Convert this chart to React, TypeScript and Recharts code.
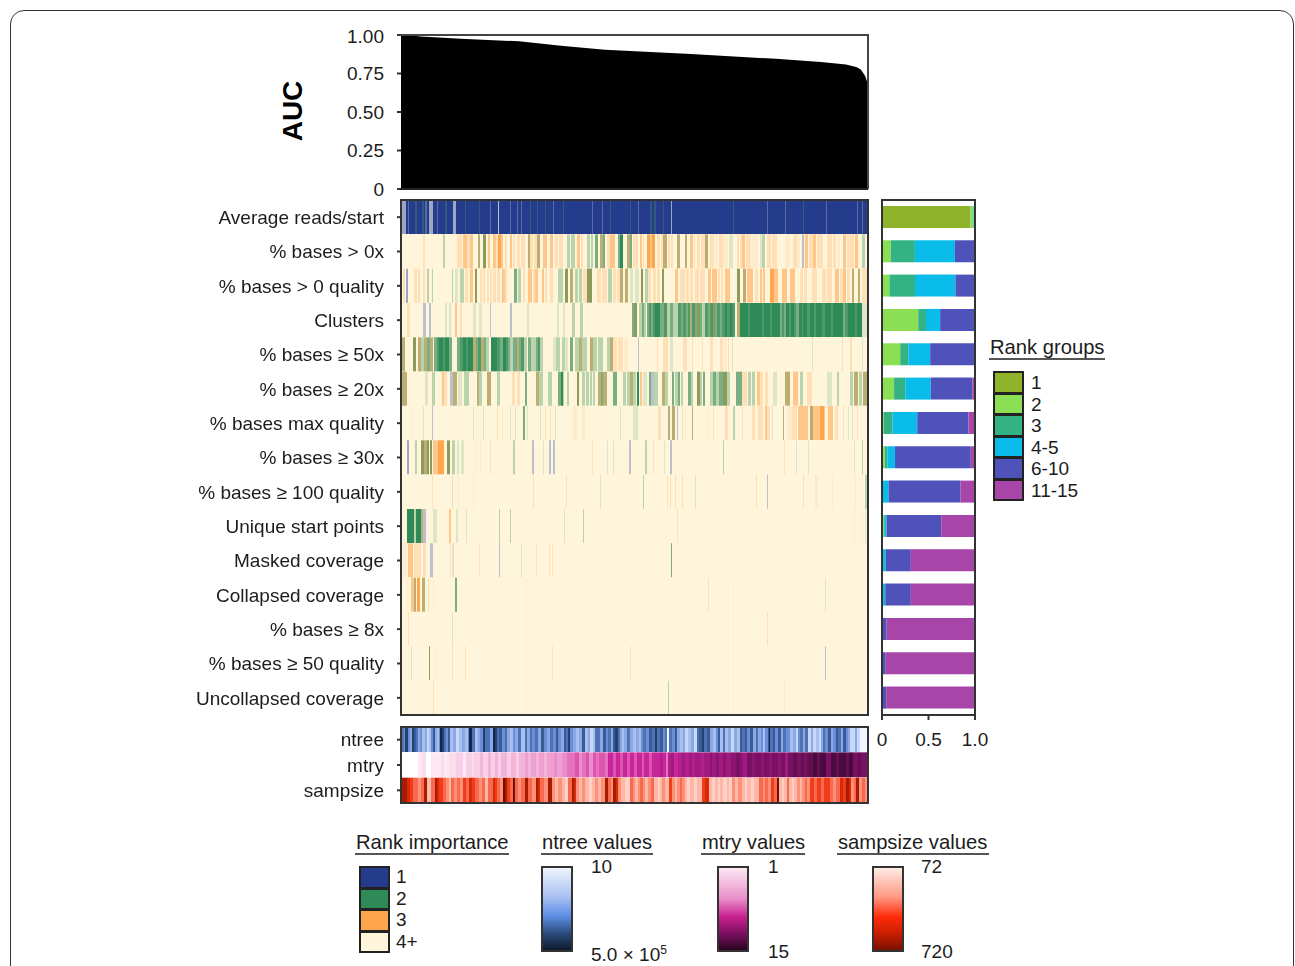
import React from "react";
import { AreaChart, Area, BarChart, Bar, Cell, XAxis, YAxis } from "recharts";

const FONT = "'Liberation Sans', Arial, sans-serif";
const COLUMNS = 467;

type Stripe = [number, number, string];

const aucIndex = [0, 8, 20, 60, 118, 160, 204, 290, 375, 420, 445, 456, 460, 464, 466, 467];
const aucValues = [1.0, 0.998, 0.99, 0.975, 0.959, 0.93, 0.905, 0.877, 0.845, 0.825, 0.808, 0.79, 0.774, 0.735, 0.70, 0.672];
const aucTicks = [0, 0.25, 0.5, 0.75, 1];

const rowNames = [
  "Average reads/start", "% bases > 0x", "% bases > 0 quality", "Clusters", "% bases ≥ 50x",
  "% bases ≥ 20x", "% bases max quality", "% bases ≥ 30x", "% bases ≥ 100 quality", "Unique start points",
  "Masked coverage", "Collapsed coverage", "% bases ≥ 8x", "% bases ≥ 50 quality", "Uncollapsed coverage",
];

const rowReads: Stripe[] = [[0,1,"k"],[1,4,"v"],[7,1,"b"],[14,2,"x"],[21,2,"x"],[24,2,"b"],[28,4,"v"],[36,1,"b"],[44,2,"x"],[52,3,"v"],[64,1,"x"],[78,1,"x"],[89,1,"b"],[97,1,"s"],[109,1,"b"],[116,1,"b"],[120,1,"b"],[129,1,"x"],[136,1,"x"],[144,1,"x"],[152,1,"b"],[162,1,"x"],[191,1,"b"],[201,1,"b"],[209,1,"x"],[229,1,"x"],[237,1,"b"],[249,2,"x"],[253,2,"x"],[262,1,"x"],[270,1,"v"],[332,1,"x"],[366,1,"b"],[384,1,"b"],[402,1,"x"],[425,1,"b"],[456,1,"b"],[461,1,"b"]];
const rowZero: Stripe[] = [[22,2,"p"],[42,2,"l"],[56,5,"p"],[62,4,"o"],[66,3,"p"],[69,3,"o"],[77,2,"k"],[82,3,"K"],[87,2,"o"],[92,3,"o"],[95,2,"p"],[97,3,"O"],[100,2,"o"],[104,2,"p"],[109,2,"o"],[112,2,"p"],[116,3,"p"],[120,4,"p"],[127,2,"k"],[129,3,"p"],[133,3,"p"],[136,3,"k"],[142,4,"o"],[149,3,"o"],[154,3,"p"],[158,4,"p"],[166,3,"l"],[170,4,"l"],[176,3,"o"],[180,2,"p"],[186,3,"l"],[190,2,"l"],[194,3,"g"],[199,3,"k"],[202,2,"g"],[206,3,"p"],[209,5,"o"],[217,2,"g"],[219,3,"G"],[226,3,"k"],[229,2,"g"],[232,5,"p"],[239,2,"o"],[242,1,"p"],[246,3,"O"],[249,2,"o"],[251,3,"O"],[256,3,"p"],[260,2,"p"],[262,4,"k"],[267,2,"p"],[270,2,"p"],[276,3,"k"],[284,2,"k"],[289,3,"o"],[293,1,"p"],[296,3,"p"],[300,4,"p"],[304,3,"k"],[309,4,"p"],[314,3,"q"],[318,4,"p"],[322,5,"q"],[328,4,"n"],[336,2,"p"],[339,2,"p"],[341,3,"o"],[345,1,"p"],[346,4,"p"],[351,6,"q"],[359,2,"n"],[361,3,"l"],[366,4,"p"],[371,5,"p"],[384,5,"q"],[392,4,"p"],[396,3,"q"],[401,2,"s"],[404,3,"o"],[408,4,"p"],[412,3,"o"],[416,6,"p"],[426,5,"p"],[432,3,"p"],[436,3,"q"],[442,3,"o"],[446,3,"p"],[449,4,"p"],[454,3,"o"],[461,3,"l"]];
const rowZeroQual: Stripe[] = [[2,2,"p"],[5,2,"v"],[13,3,"p"],[17,2,"p"],[22,2,"p"],[26,2,"l"],[31,1,"l"],[51,1,"l"],[54,3,"n"],[59,4,"l"],[64,3,"p"],[69,3,"o"],[74,2,"K"],[79,2,"p"],[82,2,"p"],[86,2,"p"],[89,2,"p"],[92,3,"p"],[96,3,"p"],[101,3,"o"],[104,2,"p"],[113,3,"g"],[117,3,"l"],[122,2,"p"],[127,4,"o"],[132,2,"p"],[134,3,"o"],[141,2,"o"],[144,2,"p"],[149,3,"p"],[157,5,"l"],[164,3,"K"],[169,3,"k"],[174,3,"l"],[178,3,"l"],[182,4,"p"],[186,5,"K"],[196,4,"p"],[201,5,"p"],[207,4,"l"],[212,3,"p"],[216,3,"p"],[219,3,"k"],[224,3,"k"],[229,3,"n"],[234,4,"n"],[240,2,"K"],[244,3,"l"],[247,3,"p"],[252,3,"p"],[256,3,"p"],[261,2,"K"],[274,3,"o"],[279,5,"p"],[285,3,"p"],[289,3,"p"],[294,4,"p"],[299,5,"p"],[307,3,"o"],[311,5,"o"],[317,2,"p"],[320,2,"p"],[324,5,"o"],[336,3,"K"],[342,3,"k"],[346,6,"o"],[354,3,"p"],[359,2,"o"],[362,2,"o"],[369,4,"O"],[373,4,"o"],[381,5,"o"],[389,5,"o"],[399,3,"p"],[403,3,"p"],[411,5,"p"],[421,4,"p"],[426,5,"p"],[434,4,"o"],[439,3,"p"],[442,3,"o"],[446,3,"p"],[451,2,"k"],[457,2,"k"],[461,6,"p"]];
const rowClusters: Stripe[] = [[6,3,"p"],[22,3,"s"],[28,2,"s"],[44,2,"n"],[48,2,"n"],[54,2,"o"],[59,2,"p"],[72,3,"n"],[78,3,"n"],[89,1,"s"],[109,2,"s"],[126,2,"n"],[156,2,"n"],[162,2,"n"],[171,3,"l"],[179,3,"l"],[231,2,"g"],[233,3,"K"],[238,3,"l"],[241,2,"g"],[243,2,"l"],[246,2,"g"],[248,2,"m"],[250,2,"g"],[252,2,"m"],[254,5,"G"],[259,2,"g"],[261,2,"g"],[263,3,"m"],[266,3,"l"],[269,3,"g"],[272,2,"l"],[274,3,"l"],[277,3,"m"],[280,2,"g"],[282,3,"m"],[285,2,"g"],[287,2,"m"],[289,2,"k"],[291,3,"m"],[294,2,"g"],[296,3,"K"],[299,2,"g"],[301,3,"l"],[304,3,"m"],[307,2,"g"],[309,3,"m"],[312,2,"K"],[314,2,"g"],[316,3,"m"],[319,2,"g"],[321,3,"m"],[324,2,"G"],[326,3,"m"],[329,2,"G"],[331,3,"m"],[336,3,"k"],[339,8,"G"],[347,2,"m"],[349,12,"G"],[361,2,"m"],[363,6,"G"],[369,2,"m"],[371,8,"G"],[379,2,"g"],[381,2,"m"],[383,2,"g"],[385,3,"G"],[388,2,"m"],[390,3,"G"],[393,2,"m"],[395,3,"g"],[398,3,"G"],[401,1,"m"],[402,4,"G"],[406,3,"m"],[409,4,"G"],[413,2,"m"],[415,6,"G"],[421,3,"m"],[424,6,"G"],[430,2,"m"],[432,10,"G"],[442,2,"g"],[444,3,"m"],[447,7,"G"],[454,2,"m"],[456,5,"G"],[461,6,"n"]];
const rowFifty: Stripe[] = [[1,3,"k"],[12,3,"K"],[17,3,"k"],[20,3,"l"],[23,3,"k"],[26,3,"g"],[29,3,"k"],[33,3,"g"],[36,2,"m"],[38,4,"G"],[42,2,"m"],[44,4,"G"],[48,3,"g"],[56,3,"g"],[59,3,"m"],[62,3,"G"],[65,2,"m"],[67,5,"G"],[72,3,"k"],[75,2,"g"],[77,3,"m"],[80,3,"k"],[83,2,"g"],[85,3,"l"],[90,6,"G"],[96,3,"m"],[99,3,"g"],[102,3,"G"],[105,2,"m"],[107,2,"g"],[109,3,"l"],[112,4,"g"],[116,2,"k"],[118,2,"g"],[120,3,"m"],[123,3,"l"],[127,3,"g"],[130,2,"l"],[132,3,"l"],[135,2,"g"],[137,2,"m"],[139,3,"l"],[152,3,"n"],[155,4,"l"],[161,3,"l"],[164,3,"n"],[169,3,"g"],[174,4,"l"],[178,3,"k"],[181,5,"l"],[189,3,"k"],[192,4,"l"],[197,5,"l"],[206,3,"l"],[209,3,"k"],[212,4,"p"],[217,5,"p"],[223,4,"q"],[237,1,"s"],[256,1,"p"],[262,5,"p"],[269,3,"n"],[282,4,"p"],[291,1,"p"],[301,1,"p"],[309,3,"p"],[319,3,"p"],[323,3,"q"],[327,1,"p"],[331,1,"n"],[411,1,"n"],[441,1,"p"],[449,2,"p"],[461,1,"n"]];
const rowTwenty: Stripe[] = [[1,5,"k"],[24,3,"n"],[31,3,"l"],[41,2,"o"],[43,3,"p"],[49,3,"s"],[52,4,"k"],[57,4,"n"],[63,5,"l"],[76,2,"k"],[78,3,"l"],[86,4,"k"],[96,3,"l"],[111,3,"p"],[116,3,"p"],[124,2,"g"],[135,3,"k"],[138,4,"l"],[147,4,"l"],[157,3,"g"],[160,2,"G"],[162,1,"l"],[166,2,"l"],[176,2,"K"],[181,3,"l"],[185,3,"l"],[189,2,"l"],[192,2,"l"],[197,3,"k"],[200,2,"g"],[202,4,"k"],[212,4,"g"],[222,3,"l"],[226,3,"l"],[229,3,"k"],[232,3,"l"],[236,2,"G"],[239,2,"o"],[242,4,"n"],[248,2,"g"],[250,3,"s"],[253,4,"l"],[261,3,"k"],[264,3,"l"],[271,2,"g"],[274,3,"l"],[277,2,"g"],[280,2,"l"],[287,3,"g"],[290,2,"l"],[296,3,"K"],[299,2,"l"],[302,2,"g"],[309,3,"l"],[312,3,"g"],[315,3,"l"],[318,4,"g"],[322,4,"K"],[326,3,"l"],[335,6,"g"],[341,5,"p"],[347,3,"l"],[351,3,"l"],[356,3,"o"],[359,3,"p"],[364,3,"p"],[372,4,"n"],[384,5,"k"],[392,5,"o"],[399,3,"l"],[406,5,"p"],[426,5,"n"],[436,2,"l"],[449,3,"l"],[453,4,"k"],[458,3,"l"],[462,4,"k"]];
const rowMaxQual: Stripe[] = [[10,1,"q"],[22,1,"n"],[31,1,"s"],[72,1,"n"],[82,1,"n"],[96,1,"p"],[101,1,"q"],[109,1,"n"],[114,1,"n"],[122,2,"g"],[126,1,"n"],[139,1,"n"],[144,1,"p"],[149,1,"p"],[154,1,"n"],[172,4,"q"],[181,3,"q"],[219,1,"n"],[232,5,"n"],[257,3,"p"],[267,2,"k"],[271,3,"k"],[276,1,"s"],[281,1,"n"],[284,1,"q"],[291,1,"k"],[307,1,"q"],[312,1,"p"],[324,3,"p"],[332,2,"l"],[341,1,"p"],[351,3,"p"],[357,5,"p"],[364,2,"o"],[366,3,"p"],[371,1,"n"],[382,1,"k"],[386,5,"q"],[391,5,"p"],[397,10,"o"],[409,3,"k"],[412,4,"o"],[416,3,"o"],[419,4,"O"],[423,1,"o"],[427,5,"o"],[434,3,"p"],[442,1,"p"],[447,1,"n"],[451,1,"n"],[456,1,"p"]];
const rowThirty: Stripe[] = [[6,2,"v"],[14,2,"l"],[20,3,"K"],[23,3,"k"],[26,2,"K"],[29,2,"K"],[32,5,"o"],[37,6,"O"],[46,3,"K"],[51,3,"l"],[56,2,"n"],[60,3,"n"],[74,1,"q"],[79,1,"q"],[89,1,"p"],[112,2,"l"],[131,2,"s"],[142,1,"n"],[148,2,"s"],[152,2,"s"],[191,1,"p"],[206,1,"n"],[212,1,"n"],[228,2,"s"],[244,2,"l"],[252,1,"p"],[263,1,"n"],[269,2,"s"],[322,1,"l"],[383,1,"p"],[395,1,"n"],[407,1,"n"],[453,1,"n"],[461,1,"l"]];
const rowHundred: Stripe[] = [[31,1,"p"],[51,1,"n"],[57,1,"q"],[72,1,"q"],[132,1,"p"],[165,1,"p"],[199,1,"n"],[242,1,"l"],[266,1,"p"],[269,1,"p"],[274,1,"p"],[281,1,"p"],[294,1,"n"],[355,1,"p"],[366,1,"s"],[402,1,"p"],[414,3,"q"],[431,1,"q"],[454,1,"q"],[464,2,"l"]];
const rowUnique: Stripe[] = [[6,7,"G"],[13,2,"l"],[15,5,"G"],[20,2,"k"],[22,3,"s"],[32,4,"n"],[48,2,"o"],[55,2,"n"],[65,1,"n"],[98,1,"l"],[109,1,"l"],[163,1,"n"],[182,1,"l"],[276,1,"p"],[453,1,"q"],[461,1,"q"],[464,1,"n"]];
const rowMasked: Stripe[] = [[2,3,"q"],[7,5,"o"],[13,7,"p"],[22,3,"p"],[29,3,"s"],[49,1,"p"],[51,2,"n"],[78,1,"p"],[98,1,"s"],[120,1,"n"],[135,1,"p"],[148,1,"p"],[151,1,"p"],[270,1,"g"]];
const rowCollapsed: Stripe[] = [[6,1,"q"],[10,3,"o"],[13,2,"k"],[16,3,"O"],[21,3,"k"],[27,1,"p"],[32,1,"q"],[54,2,"g"],[125,1,"f"],[307,1,"p"],[332,1,"f"],[424,1,"n"]];
const rowEight: Stripe[] = [[7,1,"p"],[51,1,"n"],[125,1,"f"],[332,1,"f"],[366,1,"p"]];
const rowFiftyQual: Stripe[] = [[10,1,"n"],[28,1,"K"],[34,1,"q"],[51,1,"p"],[64,1,"p"],[125,1,"f"],[151,1,"p"],[229,1,"p"],[332,1,"f"],[424,1,"s"]];
const rowUncollapsed: Stripe[] = [[32,1,"p"],[125,1,"f"],[267,1,"l"],[332,1,"f"],[383,1,"q"]];

const heatRows = [rowReads, rowZero, rowZeroQual, rowClusters, rowFifty, rowTwenty, rowMaxQual, rowThirty, rowHundred, rowUnique, rowMasked, rowCollapsed, rowEight, rowFiftyQual, rowUncollapsed];
const heatBase = ["B", "c", "c", "c", "c", "c", "c", "c", "c", "c", "c", "c", "c", "c", "c"];
const heatColors: Record<string, string> = {
  B: "#253b8c", b: "#5a6aa2", x: "#33597c", v: "#9aa6c2",
  G: "#2e8b57", m: "#4f9a68", g: "#79ad82", l: "#b9d3ac", n: "#dfe6c6", K: "#8e9a5c", k: "#bcae72",
  O: "#ffa64d", o: "#ffc68a", p: "#ffdfb5", q: "#fdebcb", s: "#bcc0cc", c: "#fff5da", f: "#f8f0d6",
};

const stripNames = ["ntree", "mtry", "sampsize"];
const stripNtree: Stripe[] = [[0,3,"5"],[4,3,"7"],[7,2,"4"],[9,2,"3"],[11,2,"7"],[13,2,"6"],[15,2,"5"],[17,2,"3"],[19,2,"4"],[21,3,"2"],[24,2,"3"],[26,2,"1"],[28,2,"2"],[30,2,"4"],[32,2,"6"],[34,2,"3"],[36,2,"2"],[39,2,"8"],[41,2,"7"],[43,2,"5"],[45,2,"4"],[47,2,"6"],[49,3,"2"],[52,3,"3"],[55,3,"1"],[58,3,"2"],[61,3,"3"],[64,3,"2"],[68,3,"8"],[71,3,"5"],[74,3,"2"],[77,2,"3"],[79,2,"4"],[82,2,"7"],[84,2,"5"],[86,3,"5"],[89,3,"3"],[92,2,"8"],[94,2,"7"],[96,2,"5"],[98,3,"6"],[101,3,"4"],[104,2,"5"],[106,3,"3"],[109,3,"2"],[112,2,"4"],[114,3,"3"],[117,3,"5"],[120,4,"2"],[124,2,"5"],[126,3,"3"],[129,2,"5"],[131,3,"4"],[134,3,"5"],[137,3,"3"],[140,3,"6"],[143,3,"4"],[146,3,"3"],[149,3,"5"],[152,3,"4"],[155,2,"6"],[157,3,"4"],[160,3,"3"],[163,2,"6"],[165,2,"5"],[167,2,"7"],[169,3,"4"],[172,3,"3"],[175,3,"2"],[178,3,"3"],[181,3,"6"],[184,3,"2"],[187,2,"3"],[189,3,"1"],[192,2,"2"],[194,2,"5"],[196,3,"5"],[199,3,"3"],[202,3,"6"],[205,2,"4"],[207,3,"5"],[210,2,"3"],[212,2,"6"],[214,3,"7"],[217,2,"5"],[219,2,"3"],[221,2,"2"],[223,3,"3"],[226,3,"5"],[229,3,"3"],[232,3,"2"],[235,3,"3"],[238,2,"2"],[240,2,"4"],[242,3,"5"],[245,3,"4"],[248,3,"6"],[251,3,"5"],[254,2,"7"],[256,3,"5"],[259,3,"6"],[262,2,"4"],[264,2,"5"],[266,2,"0"],[268,3,"5"],[271,3,"4"],[274,2,"6"],[276,3,"3"],[279,3,"2"],[282,2,"3"],[284,3,"1"],[287,3,"2"],[290,3,"3"],[293,3,"1"],[296,2,"5"],[298,3,"6"],[301,2,"7"],[303,3,"5"],[306,3,"6"],[309,3,"3"],[312,3,"2"],[315,2,"4"],[317,2,"6"],[319,3,"2"],[322,2,"5"],[324,3,"2"],[327,3,"3"],[330,3,"1"],[333,3,"3"],[336,3,"2"],[339,2,"6"],[341,3,"5"],[344,2,"6"],[346,3,"4"],[349,3,"6"],[352,3,"3"],[355,2,"5"],[357,3,"3"],[360,2,"4"],[362,2,"2"],[364,3,"4"],[367,1,"6"],[368,1,"8"],[369,3,"5"],[372,2,"6"],[374,3,"4"],[377,3,"6"],[380,2,"3"],[382,3,"5"],[386,3,"4"],[389,3,"2"],[392,3,"3"],[395,2,"1"],[397,2,"4"],[399,3,"5"],[402,2,"3"],[404,3,"5"],[407,3,"1"],[410,2,"3"],[412,3,"1"],[415,3,"2"],[418,2,"1"],[420,2,"3"],[422,2,"5"],[424,3,"4"],[427,3,"6"],[430,2,"3"],[432,3,"4"],[435,2,"6"],[437,3,"5"],[440,2,"3"],[442,3,"6"],[445,2,"4"],[447,2,"3"],[449,5,"1"],[454,2,"3"],[456,3,"1"],[459,8,"0"]];
const stripMtry: Stripe[] = [[0,17,"0"],[17,4,"1"],[21,4,"a"],[25,5,"0"],[30,10,"1"],[40,3,"a"],[43,5,"1"],[48,7,"a"],[55,7,"2"],[62,3,"1"],[65,6,"2"],[71,2,"a"],[73,6,"2"],[79,3,"3"],[82,5,"2"],[87,3,"3"],[90,4,"2"],[94,3,"3"],[97,3,"2"],[100,6,"3"],[106,4,"2"],[110,5,"3"],[115,3,"2"],[118,6,"3"],[124,3,"b"],[127,3,"3"],[130,5,"b"],[135,3,"3"],[138,5,"b"],[143,3,"3"],[146,7,"b"],[153,3,"4"],[156,5,"b"],[161,5,"4"],[166,8,"c"],[174,4,"5"],[178,3,"4"],[181,4,"c"],[185,3,"5"],[188,4,"4"],[192,3,"5"],[195,3,"c"],[198,6,"5"],[204,3,"c"],[207,5,"6"],[212,3,"5"],[215,4,"6"],[219,3,"5"],[222,4,"6"],[226,3,"5"],[229,4,"6"],[233,3,"5"],[236,5,"6"],[241,2,"5"],[243,5,"6"],[248,3,"5"],[251,8,"6"],[259,3,"d"],[262,3,"6"],[265,2,"c"],[267,3,"d"],[270,3,"7"],[273,4,"6"],[277,4,"d"],[281,3,"7"],[284,4,"d"],[288,3,"7"],[291,3,"d"],[294,6,"7"],[300,3,"d"],[303,6,"7"],[309,2,"e"],[311,4,"7"],[315,3,"e"],[318,4,"7"],[322,3,"e"],[325,5,"7"],[330,5,"e"],[335,4,"8"],[339,3,"e"],[342,4,"7"],[346,5,"8"],[351,3,"e"],[354,6,"8"],[360,3,"e"],[363,5,"8"],[368,3,"e"],[371,6,"8"],[377,3,"e"],[380,4,"8"],[384,3,"7"],[387,5,"8"],[392,4,"h"],[396,4,"8"],[400,3,"h"],[403,3,"8"],[406,6,"h"],[412,4,"9"],[416,3,"h"],[419,6,"9"],[425,5,"8"],[430,5,"9"],[435,3,"h"],[438,7,"9"],[445,3,"h"],[448,4,"9"],[452,5,"8"],[457,3,"h"],[460,7,"8"]];
const stripSamp: Stripe[] = [[1,5,"6"],[6,3,"5"],[9,3,"4"],[12,5,"3"],[17,3,"2"],[20,3,"3"],[23,3,"6"],[26,4,"1"],[30,4,"3"],[34,2,"6"],[36,2,"5"],[38,4,"4"],[42,3,"3"],[45,3,"2"],[48,2,"1"],[50,3,"3"],[53,3,"2"],[56,3,"3"],[59,3,"2"],[62,3,"4"],[65,3,"3"],[68,3,"5"],[71,3,"4"],[74,4,"3"],[78,3,"2"],[81,3,"3"],[84,3,"1"],[87,5,"3"],[92,2,"5"],[94,2,"4"],[96,3,"3"],[99,3,"2"],[102,2,"7"],[104,2,"6"],[106,3,"4"],[109,3,"3"],[112,2,"7"],[114,3,"3"],[117,3,"2"],[120,4,"3"],[124,3,"6"],[127,4,"3"],[131,4,"2"],[135,2,"6"],[137,2,"5"],[139,4,"3"],[143,4,"2"],[147,4,"6"],[151,3,"2"],[154,3,"1"],[157,4,"2"],[161,3,"1"],[164,3,"0"],[167,4,"3"],[171,2,"6"],[173,2,"5"],[175,3,"2"],[178,3,"1"],[181,3,"2"],[184,4,"1"],[188,3,"0"],[191,3,"1"],[194,3,"2"],[197,3,"1"],[200,4,"2"],[204,3,"6"],[207,3,"3"],[210,2,"2"],[212,3,"6"],[215,2,"5"],[217,3,"2"],[220,4,"1"],[224,5,"0"],[229,3,"3"],[232,2,"2"],[234,3,"1"],[237,2,"2"],[239,3,"3"],[242,2,"2"],[244,3,"1"],[247,3,"2"],[250,3,"3"],[253,4,"1"],[257,2,"0"],[259,2,"1"],[261,3,"2"],[264,4,"1"],[268,3,"4"],[271,3,"2"],[274,2,"1"],[276,3,"2"],[279,2,"3"],[281,3,"2"],[284,2,"1"],[286,3,"0"],[289,4,"1"],[293,3,"0"],[296,5,"1"],[301,3,"4"],[304,4,"5"],[308,3,"1"],[311,3,"0"],[314,3,"1"],[317,2,"0"],[319,3,"1"],[322,4,"0"],[326,2,"1"],[328,3,"0"],[331,3,"2"],[334,3,"1"],[337,4,"2"],[341,3,"1"],[344,2,"0"],[346,4,"1"],[350,3,"0"],[353,5,"1"],[358,4,"3"],[362,2,"2"],[364,3,"3"],[367,3,"2"],[370,3,"4"],[373,3,"3"],[376,2,"7"],[378,3,"1"],[381,2,"0"],[383,3,"1"],[386,2,"3"],[388,3,"1"],[391,2,"0"],[393,3,"1"],[396,3,"2"],[399,2,"1"],[401,3,"2"],[404,2,"3"],[406,3,"2"],[409,4,"4"],[413,3,"3"],[416,4,"4"],[420,3,"3"],[423,6,"4"],[429,3,"3"],[432,3,"2"],[435,4,"3"],[439,3,"5"],[442,3,"4"],[445,3,"6"],[448,2,"5"],[450,3,"2"],[453,2,"3"],[455,3,"6"],[458,3,"2"],[461,3,"3"],[464,3,"2"]];
const stripRows = [stripNtree, stripMtry, stripSamp];
const stripBase = ["4", "0", "3"];
const stripPalettes: Record<string, string>[] = [
  { "0": "#f0f5ff", "1": "#c8d8f8", "2": "#a8c0f0", "3": "#8aa8e4", "4": "#6a8ed8", "5": "#4f72b4", "6": "#3a5a98", "7": "#24406f", "8": "#14264a" },
  { "0": "#ffffff", "1": "#fde8f3", a: "#fadceb", "2": "#f8cfe6", "3": "#f2b4d9", b: "#eea0d2", "4": "#ea8ecb", c: "#e472bd", "5": "#dc55ae", "6": "#c9259a", d: "#b31f8d", "7": "#a01a80", e: "#8c1572", "8": "#7a1064", h: "#621052", "9": "#4a0a40" },
  { "0": "#ffd0c6", "1": "#ffb8a8", "2": "#ff9078", "3": "#f86a50", "4": "#f03c18", "5": "#d92a08", "6": "#a81c04", "7": "#701000" },
];

const groupKeys = ["1", "2", "3", "4-5", "6-10", "11-15"];
const groupColors = ["#8fb32b", "#8adf55", "#33b383", "#0abcea", "#4f52b8", "#a845a8"];
const group1 = [0.953, 0, 0, 0, 0, 0, 0, 0, 0, 0, 0, 0, 0, 0, 0];
const group2 = [0.03, 0.094, 0.08, 0.39, 0.196, 0.13, 0.02, 0.03, 0, 0.02, 0, 0, 0, 0, 0];
const group3 = [0, 0.26, 0.275, 0.083, 0.087, 0.12, 0.094, 0.03, 0, 0.01, 0.01, 0.005, 0, 0, 0];
const group45 = [0.017, 0.43, 0.435, 0.152, 0.235, 0.275, 0.265, 0.08, 0.07, 0.02, 0.03, 0.03, 0, 0, 0];
const group610 = [0, 0.21, 0.2, 0.366, 0.475, 0.446, 0.55, 0.815, 0.775, 0.587, 0.27, 0.275, 0.05, 0.04, 0.045];
const group1115 = [0, 0.006, 0.01, 0.009, 0.007, 0.029, 0.071, 0.045, 0.155, 0.363, 0.69, 0.69, 0.95, 0.96, 0.955];
const groupSeries = [group1, group2, group3, group45, group610, group1115];
const fractionTicks = [0, 0.5, 1];

const rankLabels = ["1", "2", "3", "4+"];
const rankColors = ["#253b8c", "#2e8b57", "#ffa64d", "#fff5da"];
const ntreeLabels = ["10"];
const mtryLabels = ["1", "15"];
const sampLabels = ["72", "720"];

const aucData = aucIndex.map((x, i) => ({ x, auc: aucValues[i] }));

function buildTable(names: string[], rows: Stripe[][], base: string[]) {
  const table = names.map((name, r) => {
    const sorted = [...rows[r]].sort((a, b) => a[0] - b[0]);
    const rec: any = { name, levels: [] as string[] };
    let pos = 0;
    let n = 0;
    const push = (w: number, level: string) => {
      if (w <= 0) return;
      rec[`s${n}`] = w;
      rec.levels.push(level);
      n += 1;
    };
    for (const [start, width, level] of sorted) {
      const s = Math.max(start, pos);
      const e = Math.min(start + width, COLUMNS);
      if (e <= s) continue;
      push(s - pos, base[r]);
      push(e - s, level);
      pos = e;
    }
    push(COLUMNS - pos, base[r]);
    rec.count = n;
    return rec;
  });
  const max = Math.max(...table.map((t) => t.count));
  return { table, max };
}

const heat = buildTable(rowNames, heatRows, heatBase);
const strips = buildTable(stripNames, stripRows, stripBase);
const fractionTable = rowNames.map((name, r) => {
  const rec: any = { name };
  groupKeys.forEach((k, g) => (rec[k] = groupSeries[g][r]));
  return rec;
});

const tickStyle = { fontFamily: FONT, fontSize: 19, fill: "#1c1c1c" };
const axisLine = { stroke: "#333", strokeWidth: 2 };

function Band({ table, max, color, height }: { table: any[]; max: number; color: (row: number, level: string) => string; height: number }) {
  const bars = [];
  for (let i = 0; i < max; i++) {
    bars.push(
      <Bar key={i} dataKey={`s${i}`} stackId="h" isAnimationActive={false} stroke="none">
        {table.map((row, r) => (
          <Cell key={r} fill={i < row.count ? color(r, row.levels[i]) : "transparent"} />
        ))}
      </Bar>
    );
  }
  return (
    <BarChart width={869} height={height} data={table} layout="vertical" barCategoryGap={0} margin={{ top: 10, right: 1, bottom: 10, left: 0 }}>
      <XAxis type="number" domain={[0, COLUMNS]} hide allowDataOverflow />
      <YAxis type="category" dataKey="name" width={401} interval={0} tick={tickStyle} tickSize={4} tickMargin={13} axisLine={false} tickLine={axisLine} />
      {bars}
    </BarChart>
  );
}

const abs = (left: number, top: number, extra: React.CSSProperties = {}): React.CSSProperties => ({ position: "absolute", left, top, ...extra });
const Frame = ({ l, t, w, h }: { l: number; t: number; w: number; h: number }) => (
  <div style={abs(l - 1, t - 1, { width: w, height: h, boxSizing: "border-box", border: "2px solid #333", pointerEvents: "none" })} />
);
const Txt = ({ x, y, s = 19, children }: { x: number; y: number; s?: number; children: React.ReactNode }) => (
  <div style={abs(x, y, { fontFamily: FONT, fontSize: s, lineHeight: "20px", height: 20, color: "#1c1c1c", whiteSpace: "nowrap", transform: "translateY(-10px)" })}>{children}</div>
);
const Title = ({ x, y, w, children }: { x: number; y: number; w: number; children: React.ReactNode }) => (
  <>
    <Txt x={x} y={y} s={20.2}>{children}</Txt>
    <div style={abs(x - 1, y + 11, { width: w, height: 2, background: "#555" })} />
  </>
);
const Swatches = ({ x, y, h, colors }: { x: number; y: number; h: number; colors: string[] }) => (
  <>
    {colors.map((c, i) => (
      <div key={i} style={abs(x, y + i * h, { width: 31, height: h + 1, boxSizing: "border-box", border: "2px solid #222", background: c })} />
    ))}
  </>
);
const Gradient = ({ x, bg }: { x: number; bg: string }) => (
  <div style={abs(x, 866, { width: 32, height: 86, boxSizing: "border-box", border: "2px solid #333", background: bg })} />
);

export default function App() {
  return (
    <div style={abs(0, 0, { width: 1295, height: 966, overflow: "hidden", background: "#fff" })}>
      <div style={abs(10, 10, { width: 1284, height: 1000, boxSizing: "border-box", border: "1.5px solid #333", borderRadius: 14 })} />

      <div style={abs(0, 25)}>
        <AreaChart width={869} height={175} data={aucData} margin={{ top: 10, right: 1, bottom: 11, left: 0 }}>
          <XAxis type="number" dataKey="x" domain={[0, COLUMNS]} hide />
          <YAxis type="number" domain={[0, 1]} ticks={aucTicks} width={401} tick={tickStyle} tickSize={4} tickMargin={13} axisLine={false} tickLine={axisLine} tickFormatter={(v: number) => (v === 0 ? "0" : v.toFixed(2))} />
          <Area type="linear" dataKey="auc" stroke="none" fill="#000" fillOpacity={1} isAnimationActive={false} dot={false} />
        </AreaChart>
      </div>
      <div style={abs(400, 34, { width: 468, height: 0, borderTop: "2px solid #444" })} />
      <div style={abs(867, 34, { width: 0, height: 155, borderRight: "2px solid #444" })} />
      <div style={abs(400, 188, { width: 468, height: 0, borderTop: "2px solid #222" })} />
      <div style={abs(293, 111, { fontFamily: FONT, fontSize: 28, fontWeight: 700, color: "#000", transform: "translate(-50%,-50%) rotate(-90deg)" })}>AUC</div>

      <div style={abs(401, 234, { width: 467, height: 481, background: "#fff5da" })} />
      <div style={abs(0, 190, { filter: "blur(0.7px)" })}>
        <Band table={heat.table} max={heat.max} height={535} color={(_r, l) => heatColors[l]} />
      </div>
      <Frame l={401} t={200} w={469} h={517} />

      <div style={abs(0, 717, { filter: "blur(0.7px)" })}>
        <Band table={strips.table} max={strips.max} height={96} color={(r, l) => stripPalettes[r][l]} />
      </div>
      <Frame l={401} t={727} w={469} h={78} />

      <div style={abs(872, 190)}>
        <BarChart width={120} height={560} data={fractionTable} layout="vertical" barCategoryGap="17.3%" margin={{ top: 10, right: 17, bottom: 0, left: 10 }}>
          <XAxis type="number" domain={[0, 1]} ticks={fractionTicks} height={35} tick={tickStyle} tickSize={5} tickMargin={13} axisLine={axisLine} tickLine={axisLine} tickFormatter={(v: number) => (v === 0 ? "0" : v.toFixed(1))} />
          <YAxis type="category" dataKey="name" hide />
          {groupKeys.map((k, g) => (
            <Bar key={k} dataKey={k} stackId="f" fill={groupColors[g]} isAnimationActive={false} />
          ))}
        </BarChart>
      </div>
      <div style={abs(881, 199, { width: 95, height: 516, boxSizing: "border-box", borderLeft: "2px solid #333", borderRight: "2px solid #333", borderTop: "2px solid #333" })} />

      <Title x={990} y={347} w={116}>Rank groups</Title>
      <Swatches x={993} y={371} h={21.5} colors={groupColors} />
      {groupKeys.map((k, i) => (
        <Txt key={k} x={1031} y={383 + i * 21.5}>{k}</Txt>
      ))}

      <Title x={356} y={842} w={154}>Rank importance</Title>
      <Swatches x={359} y={866} h={21.5} colors={rankColors} />
      {rankLabels.map((k, i) => (
        <Txt key={k} x={396} y={877 + i * 21.5}>{k}</Txt>
      ))}

      <Title x={542} y={842} w={112}>ntree values</Title>
      <Gradient x={541} bg="linear-gradient(#f0f5ff,#a8c0f0 35%,#6090e8 58%,#2a4a7a 80%,#0d1a30)" />
      <Txt x={591} y={867}>{ntreeLabels[0]}</Txt>
      <Txt x={591} y={955}>5.0 × 10<sup style={{ fontSize: 12, lineHeight: 0 }}>5</sup></Txt>

      <Title x={702} y={842} w={104}>mtry values</Title>
      <Gradient x={717} bg="linear-gradient(#fde8f3,#e88cc8 38%,#c91f8e 60%,#7a0f60 80%,#2a0520)" />
      <Txt x={768} y={867}>{mtryLabels[0]}</Txt>
      <Txt x={768} y={952}>{mtryLabels[1]}</Txt>

      <Title x={838} y={842} w={152}>sampsize values</Title>
      <Gradient x={872} bg="linear-gradient(#ffeae5,#ff9a85 35%,#ff2a08 60%,#c81f00 80%,#7a1000)" />
      <Txt x={921} y={867}>{sampLabels[0]}</Txt>
      <Txt x={921} y={952}>{sampLabels[1]}</Txt>
    </div>
  );
}
